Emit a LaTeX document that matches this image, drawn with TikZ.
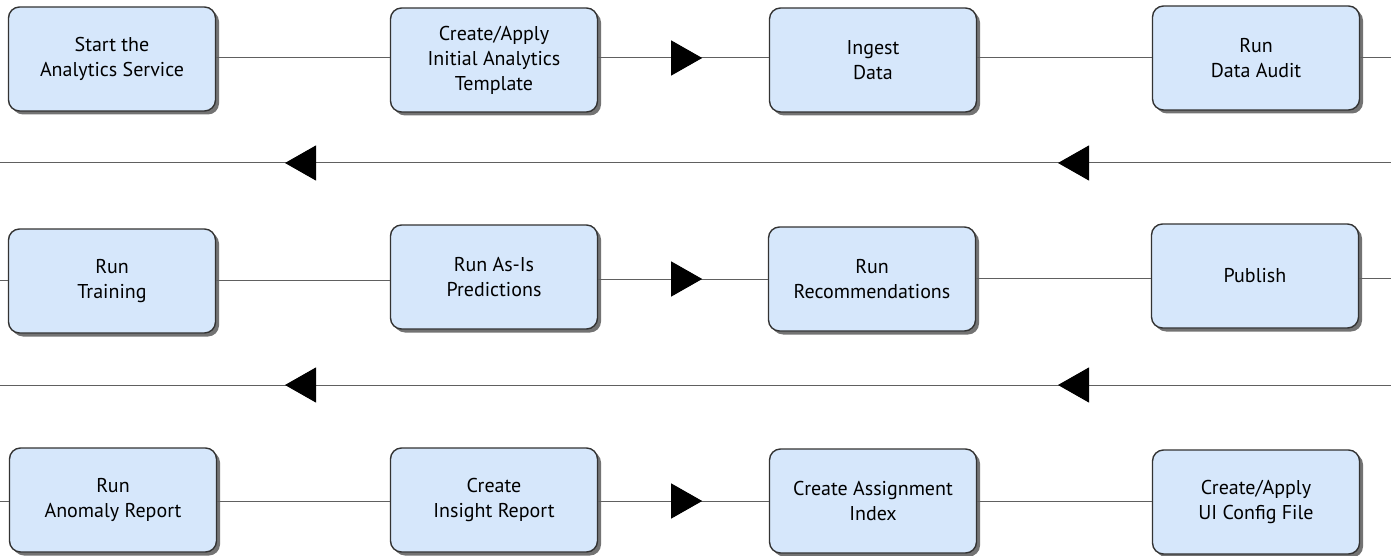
\documentclass[tikz,border=0pt]{standalone}
\usepackage{fontspec}
\setmainfont{PT Sans}
\usepackage{tikz}
\usetikzlibrary{shadows, arrows.meta, decorations.markings}
\definecolor{boxfill}{HTML}{D6E7FB}
\definecolor{boxline}{HTML}{333333}
\definecolor{wire}{HTML}{606060}
\tikzset{stepbox/.style={rectangle, rounded corners=11pt, draw=boxline, line width=1.4pt, fill=boxfill, minimum width=207pt, minimum height=104pt, align=center, font=\fontsize{20}{25}\selectfont, drop shadow={shadow xshift=3.5pt, shadow yshift=-3.5pt, opacity=.55, fill=black}}, wire/.style={draw=wire, line width=1pt}, tipat/.style={postaction={decorate, decoration={markings, mark=at position #1 with {\arrow[black]{Triangle[length=31pt, width=35pt]}}}}}}

\begin{document}
\begin{tikzpicture}[x=1pt, y=-1pt]
                 \useasboundingbox (0,0) rectangle (1391,556);
                 \node[stepbox] (start) at (112,59) {Start the\\Analytics Service};
                 \node[stepbox] (template) at (494,60) {Create/Apply\\Initial Analytics\\Template};
                 \node[stepbox] (ingest) at (873,60) {Ingest\\Data};
                 \node[stepbox] (audit) at (1256,58) {Run\\Data Audit};
                 \node[stepbox] (training) at (112,281) {Run\\Training};
                 \node[stepbox] (asis) at (494,277) {Run As-Is\\Predictions};
                 \node[stepbox] (recommend) at (872,279) {Run\\Recommendations};
                 \node[stepbox] (publish) at (1255,276) {Publish};
                 \node[stepbox] (anomaly) at (113,500) {Run\\Anomaly Report};
                 \node[stepbox] (insight) at (494,500) {Create\\Insight Report};
                 \node[stepbox] (assign) at (873,501) {Create Assignment\\Index};
                 \node[stepbox] (uiconfig) at (1256,502) {Create/Apply\\UI Config File};
                 \coordinate (out1) at (1391,58);
                 \coordinate (back1r) at (1391,163);
                 \coordinate (back1l) at (0,163);
                 \coordinate (in2) at (0,280);
                 \coordinate (out2) at (1391,278);
                 \coordinate (back2r) at (1391,385);
                 \coordinate (back2l) at (0,385);
                 \coordinate (in3) at (0,501);
                 % first row
                 \draw[wire] (start.east |- 0,58) -- (template.west |- 0,58);
                 \draw[wire, tipat=104pt] (template.east |- 0,58) -- (ingest.west |- 0,58);
                 \draw[wire] (ingest.east |- 0,58) -- (audit.west |- 0,58);
                 \draw[wire] (audit.east |- out1) -- (out1);
                 \draw[wire, tipat=333pt, tipat=1106pt] (back1r) -- (back1l);
                 % second row
                 \draw[wire] (in2) -- (training.west |- in2);
                 \draw[wire] (training.east |- 0,280) -- (asis.west |- 0,280);
                 \draw[wire, tipat=104pt] (asis.east |- 0,279) -- (recommend.west |- 0,279);
                 \draw[wire] (recommend.east |- 0,278) -- (publish.west |- 0,278);
                 \draw[wire] (publish.east |- out2) -- (out2);
                 \draw[wire, tipat=333pt, tipat=1106pt] (back2r) -- (back2l);
                 % third row
                 \draw[wire] (in3) -- (anomaly.west |- in3);
                 \draw[wire] (anomaly.east |- 0,501) -- (insight.west |- 0,501);
                 \draw[wire, tipat=104pt] (insight.east |- 0,501) -- (assign.west |- 0,501);
                 \draw[wire] (assign.east |- 0,501) -- (uiconfig.west |- 0,501);
             \end{tikzpicture}
\end{document}
